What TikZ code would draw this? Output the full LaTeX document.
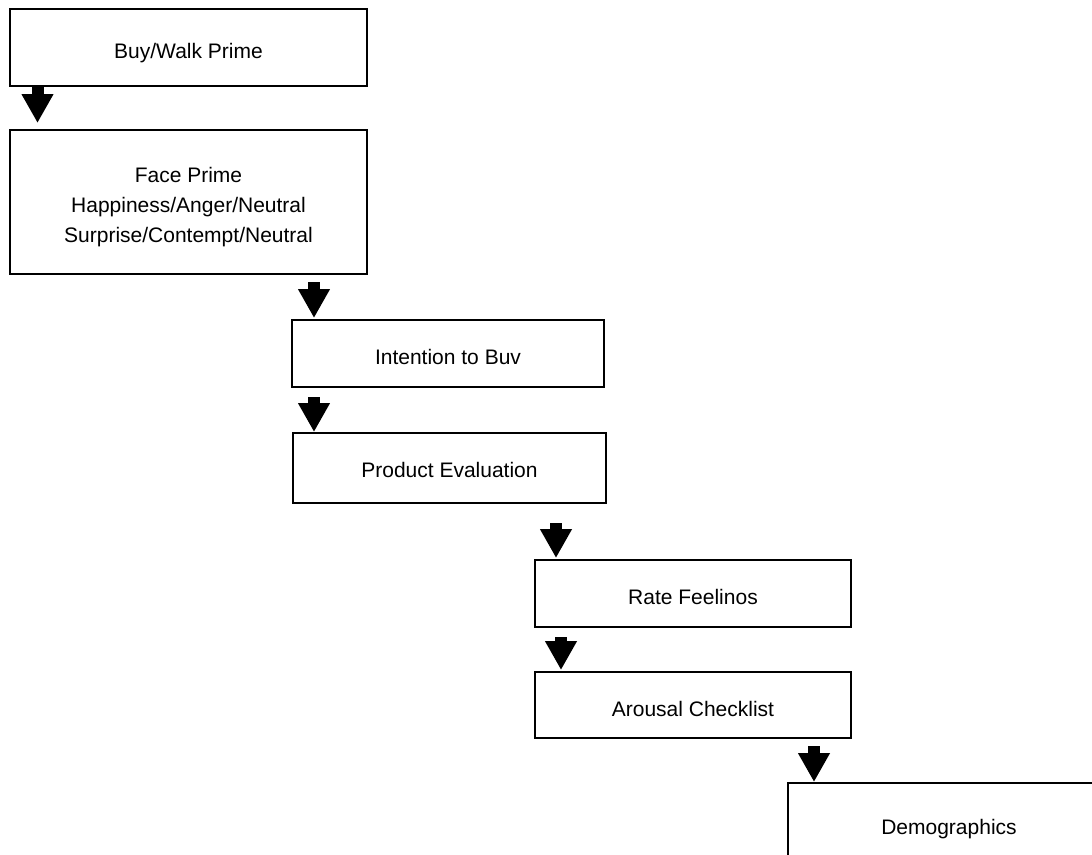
\documentclass[tikz,border=0pt]{standalone}
\usepackage{fontspec}
\setmainfont{Liberation Sans}
\usetikzlibrary{arrows.meta}
\begin{document}
\begin{tikzpicture}[x=1pt,y=-1pt,
  stepbox/.style={draw=black,line width=1.6pt,inner sep=0pt,outer sep=0pt,
    align=center,font=\fontsize{21}{30}\selectfont,text height=22pt,text depth=0pt},
  arr/.style={line width=12pt,-{Triangle[width=30pt,length=29pt]}}]
\useasboundingbox (0,0) rectangle (1092,854);
\node[stepbox,minimum width=357pt,minimum height=77pt] (b1) at (188.5,47.5) {Buy/Walk Prime};
\node[stepbox,minimum width=357pt,minimum height=144pt,text height=,text depth=] (b2) at (188.5,202) {\rule{0pt}{25pt}Face Prime\\Happiness/Anger/Neutral\\Surprise/Contempt/Neutral};
\node[stepbox,minimum width=312pt,minimum height=67pt] (b3) at (448,353.5) {Intention to Buv};
\node[stepbox,minimum width=313pt,minimum height=70pt,text height=18pt] (b4) at (449.5,468) {Product Evaluation};
\node[stepbox,minimum width=316pt,minimum height=67pt] (b5) at (693,593.5) {Rate Feelinos};
\node[stepbox,minimum width=316pt,minimum height=66pt] (b6) at (693,705) {Arousal Checklist};
\node[stepbox,minimum width=322pt,minimum height=87pt,text height=15pt] (b7) at (949,826.5) {Demographics};
\coordinate (a1) at (37.5,0);
\coordinate (a2) at (314,0);
\coordinate (a3) at (314,0);
\coordinate (a4) at (556,0);
\coordinate (a5) at (561,0);
\coordinate (a6) at (814,0);
\draw[arr,shorten <=0pt,shorten >=7pt] (b1.south -| a1) -- (b2.north -| a1);
\draw[arr,shorten <=8pt,shorten >=2pt] (b2.south -| a2) -- (b3.north -| a2);
\draw[arr,shorten <=10pt,shorten >=1pt] (b3.south -| a3) -- (b4.north -| a3);
\draw[arr,shorten <=20pt,shorten >=2pt] (b4.south -| a4) -- (b5.north -| a4);
\draw[arr,shorten <=10pt,shorten >=2pt] (b5.south -| a5) -- (b6.north -| a5);
\draw[arr,shorten <=8pt,shorten >=1pt] (b6.south -| a6) -- (b7.north -| a6);
\end{tikzpicture}
\end{document}
